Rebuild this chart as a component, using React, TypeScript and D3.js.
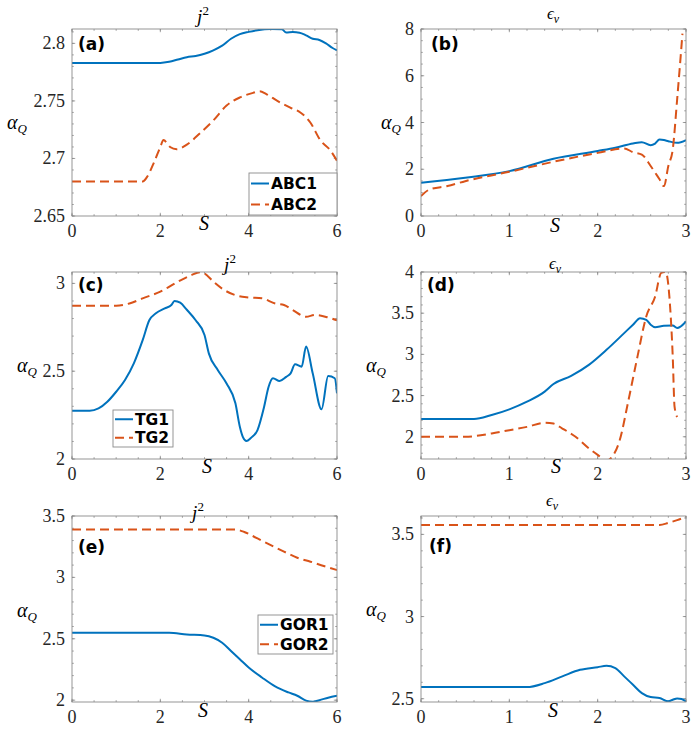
import * as d3 from "d3";

type Pt = [number, number];

const BLUE = "#0072BD";
const ORANGE = "#D95319";

// (a) j^2, ABC models
const abc1J2: Pt[] = [
  [0, 2.783], [1, 2.783], [2.0, 2.783], [2.2, 2.784], [2.4, 2.786], [2.6, 2.788], [2.8, 2.789],
  [3.0, 2.791], [3.2, 2.794], [3.4, 2.798], [3.6, 2.804], [3.8, 2.808], [4.0, 2.81], [4.2, 2.8115],
  [4.5, 2.8125], [4.75, 2.8122], [4.85, 2.8095], [5.0, 2.8098], [5.15, 2.8093], [5.3, 2.807],
  [5.45, 2.804], [5.6, 2.803], [5.75, 2.8], [5.9, 2.796], [6.0, 2.794],
];
const abc2J2: Pt[] = [
  [0, 2.68], [1, 2.68], [1.6, 2.68], [1.7, 2.684], [1.85, 2.696], [2.0, 2.71], [2.07, 2.716],
  [2.22, 2.71], [2.37, 2.708], [2.6, 2.712], [2.9, 2.722], [3.2, 2.733], [3.5, 2.746], [3.8, 2.753],
  [4.1, 2.757], [4.25, 2.7585], [4.4, 2.756], [4.65, 2.75], [4.95, 2.744], [5.17, 2.74], [5.4, 2.731],
  [5.62, 2.716], [5.85, 2.707], [6.0, 2.698],
];
// (b) eps_v, ABC models
const abc1Ev: Pt[] = [
  [0, 1.42], [0.5, 1.64], [1.0, 1.92], [1.5, 2.45], [2.0, 2.78], [2.2, 2.92], [2.4, 3.1], [2.5, 3.16],
  [2.6, 3.03], [2.65, 3.1], [2.7, 3.27], [2.75, 3.25], [2.8, 3.2], [2.9, 3.13], [3.0, 3.25],
];
const abc2Ev: Pt[] = [
  [0, 0.85], [0.1, 1.14], [0.3, 1.28], [0.5, 1.49], [1.0, 1.89], [1.5, 2.32], [2.0, 2.7], [2.3, 2.89],
  [2.4, 2.73], [2.5, 2.63], [2.6, 2.14], [2.7, 1.57], [2.75, 1.28], [2.8, 2.14], [2.85, 2.85],
  [2.9, 5.0], [2.96, 7.8],
];
// (c) j^2, TG models
const tg1J2: Pt[] = [
  [0, 2.275], [0.4, 2.275], [0.6, 2.288], [0.8, 2.326], [1.0, 2.383], [1.2, 2.45], [1.4, 2.545],
  [1.6, 2.677], [1.75, 2.79], [1.9, 2.83], [2.1, 2.858], [2.25, 2.877], [2.32, 2.9], [2.45, 2.89],
  [2.6, 2.85], [2.8, 2.79], [3.0, 2.706], [3.1, 2.6], [3.3, 2.507], [3.5, 2.43], [3.7, 2.317],
  [3.8, 2.184], [3.87, 2.125], [3.95, 2.103], [4.05, 2.12], [4.2, 2.165], [4.35, 2.298], [4.45, 2.41],
  [4.55, 2.46], [4.7, 2.444], [4.85, 2.468], [4.95, 2.488], [5.05, 2.54], [5.2, 2.526], [5.3, 2.64],
  [5.45, 2.488], [5.65, 2.283], [5.8, 2.472], [5.95, 2.46], [6.0, 2.374],
];
const tg2J2: Pt[] = [
  [0, 2.873], [1.0, 2.873], [1.3, 2.886], [1.6, 2.915], [2.0, 2.953], [2.4, 3.01], [2.7, 3.047],
  [2.9, 3.064], [3.0, 3.057], [3.2, 3.01], [3.4, 2.97], [3.7, 2.933], [4.0, 2.92], [4.3, 2.915],
  [4.6, 2.886], [4.8, 2.877], [5.0, 2.848], [5.3, 2.81], [5.5, 2.82], [5.8, 2.806], [6.0, 2.79],
];
// (d) eps_v, TG models
const tg1Ev: Pt[] = [
  [0, 2.215], [0.6, 2.215], [0.8, 2.264], [1.0, 2.333], [1.2, 2.426], [1.4, 2.548], [1.5, 2.64],
  [1.7, 2.738], [1.9, 2.872], [2.1, 3.055], [2.3, 3.258], [2.4, 3.36], [2.48, 3.44], [2.55, 3.42],
  [2.6, 3.36], [2.65, 3.33], [2.75, 3.347], [2.85, 3.35], [2.9, 3.32], [3.0, 3.4],
];
const tg2Ev: Pt[] = [
  [0, 2.0], [0.5, 2.0], [0.8, 2.04], [1.0, 2.08], [1.2, 2.12], [1.4, 2.17], [1.5, 2.16], [1.6, 2.1],
  [1.75, 2.0], [1.9, 1.86], [2.0, 1.78], [2.1, 1.71], [2.15, 1.74], [2.25, 1.96], [2.35, 2.45],
  [2.45, 2.97], [2.55, 3.46], [2.65, 3.7], [2.72, 3.99], [2.77, 4.0], [2.82, 3.58], [2.85, 2.97],
  [2.87, 2.37], [2.9, 2.24],
];
// (e) j^2, GOR models
const gor1J2: Pt[] = [
  [0, 2.549], [2.2, 2.549], [2.6, 2.535], [3.0, 2.527], [3.2, 2.508], [3.4, 2.468], [3.6, 2.4],
  [3.8, 2.333], [4.0, 2.266], [4.3, 2.185], [4.6, 2.112], [4.9, 2.063], [5.1, 2.036], [5.3, 1.996],
  [5.45, 1.988], [5.6, 2.0], [5.8, 2.02], [6.0, 2.036],
];
const gor2J2: Pt[] = [
  [0, 3.39], [3.7, 3.39], [3.9, 3.37], [4.2, 3.317], [4.5, 3.263], [4.8, 3.21], [5.1, 3.16],
  [5.4, 3.128], [5.7, 3.093], [6.0, 3.06],
];
// (f) eps_v, GOR models
const gor1Ev: Pt[] = [
  [0, 2.571], [1.2, 2.571], [1.4, 2.595], [1.6, 2.636], [1.8, 2.676], [2.0, 2.692], [2.1, 2.7],
  [2.2, 2.686], [2.3, 2.636], [2.4, 2.585], [2.5, 2.534], [2.6, 2.51], [2.7, 2.504], [2.8, 2.484],
  [2.85, 2.494], [2.9, 2.502], [2.95, 2.498], [3.0, 2.484],
];
const gor2Ev: Pt[] = [[0, 3.557], [2.7, 3.557], [2.8, 3.57], [2.9, 3.587], [3.0, 3.607]];

const xTicksJ2 = [0, 2, 4, 6];
const xTicksEv = [0, 1, 2, 3];
const yTicksA = [2.65, 2.7, 2.75, 2.8];
const yTicksB = [0, 2, 4, 6, 8];
const yTicksC = [2, 2.5, 3];
const yTicksD = [2, 2.5, 3, 3.5, 4];
const yTicksE = [2, 2.5, 3, 3.5];
const yTicksF = [2.5, 3, 3.5];

const legendA = ["ABC1", "ABC2"];
const legendC = ["TG1", "TG2"];
const legendE = ["GOR1", "GOR2"];

interface PanelDef {
  id: string;
  tag: string;
  box: [number, number, number, number]; // left, top, right, bottom
  xDomain: [number, number];
  yDomain: [number, number];
  xTicks: number[];
  yTicks: number[];
  xMinor: number;
  yMinor: number;
  solid: Pt[];
  dashed: Pt[];
  title: "j2" | "ev";
  titlePos: [number, number];
  yLabelPos: [number, number];
  xLabelPos: [number, number];
  tagPos: [number, number];
  legend?: { names: string[]; box: [number, number, number, number] };
}

const panels: PanelDef[] = [
  {
    id: "a", tag: "(a)", box: [72, 29, 337, 216], xDomain: [0, 6], yDomain: [2.65, 2.8125],
    xTicks: xTicksJ2, yTicks: yTicksA, xMinor: 0.5, yMinor: 0.01, solid: abc1J2, dashed: abc2J2,
    title: "j2", titlePos: [203, 23], yLabelPos: [7, 129], xLabelPos: [204, 230], tagPos: [78, 50],
    legend: { names: legendA, box: [249, 173, 337, 215] },
  },
  {
    id: "b", tag: "(b)", box: [421, 29, 686, 216], xDomain: [0, 3], yDomain: [0, 8],
    xTicks: xTicksEv, yTicks: yTicksB, xMinor: 0.2, yMinor: 0.5, solid: abc1Ev, dashed: abc2Ev,
    title: "ev", titlePos: [553, 19], yLabelPos: [381, 129], xLabelPos: [555, 232], tagPos: [431, 50],
  },
  {
    id: "c", tag: "(c)", box: [72, 272, 337, 459], xDomain: [0, 6], yDomain: [2, 3.065],
    xTicks: xTicksJ2, yTicks: yTicksC, xMinor: 0.5, yMinor: 0.1, solid: tg1J2, dashed: tg2J2,
    title: "j2", titlePos: [230, 271], yLabelPos: [17, 372], xLabelPos: [207, 473], tagPos: [78, 291],
    legend: { names: legendC, box: [113, 410, 173, 447] },
  },
  {
    id: "d", tag: "(d)", box: [421, 272, 686, 459], xDomain: [0, 3], yDomain: [1.73, 4],
    xTicks: xTicksEv, yTicks: yTicksD, xMinor: 0.2, yMinor: 0.1, solid: tg1Ev, dashed: tg2Ev,
    title: "ev", titlePos: [555, 269], yLabelPos: [366, 372], xLabelPos: [556, 473], tagPos: [427, 291],
  },
  {
    id: "e", tag: "(e)", box: [72, 516, 337, 702], xDomain: [0, 6], yDomain: [1.985, 3.5],
    xTicks: xTicksJ2, yTicks: yTicksE, xMinor: 0.5, yMinor: 0.1, solid: gor1J2, dashed: gor2J2,
    title: "j2", titlePos: [198, 519], yLabelPos: [17, 617], xLabelPos: [203, 717], tagPos: [78, 553],
    legend: { names: legendE, box: [258, 615, 333, 654] },
  },
  {
    id: "f", tag: "(f)", box: [421, 516, 686, 702], xDomain: [0, 3], yDomain: [2.48, 3.612],
    xTicks: xTicksEv, yTicks: yTicksF, xMinor: 0.2, yMinor: 0.1, solid: gor1Ev, dashed: gor2Ev,
    title: "ev", titlePos: [552, 506], yLabelPos: [366, 616], xLabelPos: [553, 717], tagPos: [429, 552],
  },
];

const SERIF = "'Liberation Serif', 'DejaVu Serif', serif";
const SANS = "'DejaVu Sans', sans-serif";
const AXIS = "#8a8a8a";
const TEXT = "#262626";

const minorValues = (d0: number, d1: number, step: number) => {
  const lo = Math.ceil(d0 / step - 1e-9);
  const hi = Math.floor(d1 / step + 1e-9);
  return d3.range(lo, hi + 1).map((i) => +(i * step).toFixed(6));
};

const fmt = (v: number) => String(+v.toFixed(3));

function Panel({ p }: { p: PanelDef }) {
  const [l, t, r, b] = p.box;
  const x = d3.scaleLinear().domain(p.xDomain).range([l, r]);
  const y = d3.scaleLinear().domain(p.yDomain).range([b, t]);
  const line = d3
    .line<Pt>()
    .x((d) => x(d[0]))
    .y((d) => y(d[1]))
    .curve(d3.curveMonotoneX);
  const clipId = `clip-${p.id}`;
  const xm = minorValues(p.xDomain[0], p.xDomain[1], p.xMinor);
  const ym = minorValues(p.yDomain[0], p.yDomain[1], p.yMinor);
  const major = 3.2;
  const minor = 1.8;

  return (
    <g>
      <defs>
        <clipPath id={clipId}>
          <rect x={l} y={t} width={r - l} height={b - t} />
        </clipPath>
      </defs>
      <rect x={l} y={t} width={r - l} height={b - t} fill="#fff" />
      {/* ticks on all four sides, pointing in */}
      <g stroke={AXIS} strokeWidth={0.8}>
        {xm.map((v) => (
          <g key={`xm${v}`}>
            <line x1={x(v)} x2={x(v)} y1={b} y2={b - minor} />
            <line x1={x(v)} x2={x(v)} y1={t} y2={t + minor} />
          </g>
        ))}
        {ym.map((v) => (
          <g key={`ym${v}`}>
            <line x1={l} x2={l + minor} y1={y(v)} y2={y(v)} />
            <line x1={r} x2={r - minor} y1={y(v)} y2={y(v)} />
          </g>
        ))}
        {p.xTicks.map((v) => (
          <g key={`xt${v}`}>
            <line x1={x(v)} x2={x(v)} y1={b} y2={b - major} />
            <line x1={x(v)} x2={x(v)} y1={t} y2={t + major} />
          </g>
        ))}
        {p.yTicks.map((v) => (
          <g key={`yt${v}`}>
            <line x1={l} x2={l + major} y1={y(v)} y2={y(v)} />
            <line x1={r} x2={r - major} y1={y(v)} y2={y(v)} />
          </g>
        ))}
      </g>
      <g clipPath={`url(#${clipId})`} fill="none" strokeWidth={2}>
        <path d={line(p.solid) ?? ""} stroke={BLUE} strokeLinejoin="round" />
        <path d={line(p.dashed) ?? ""} stroke={ORANGE} strokeDasharray="9,5" />
      </g>
      <rect x={l} y={t} width={r - l} height={b - t} fill="none" stroke={AXIS} strokeWidth={0.9} />
      <g fontFamily={SERIF} fontSize={18} fill={TEXT}>
        {p.xTicks.map((v) => (
          <text key={`xl${v}`} x={x(v)} y={b + 21} textAnchor="middle">
            {fmt(v)}
          </text>
        ))}
        {p.yTicks.map((v) => (
          <text key={`yl${v}`} x={l - 7} y={y(v) + 6} textAnchor="end">
            {fmt(v)}
          </text>
        ))}
      </g>
      {p.title === "j2" ? (
        <text x={p.titlePos[0]} y={p.titlePos[1]} fontFamily={SERIF} fontSize={19} fill="#000" textAnchor="middle">
          <tspan fontStyle="italic">j</tspan>
          <tspan dy={-8} fontSize={13}>2</tspan>
        </text>
      ) : (
        <text x={p.titlePos[0]} y={p.titlePos[1]} fontFamily={SERIF} fontSize={17} fill="#000" textAnchor="middle">
          <tspan fontStyle="italic">ϵ</tspan>
          <tspan dy={4} fontSize={12} fontStyle="italic">v</tspan>
        </text>
      )}
      <text x={p.yLabelPos[0]} y={p.yLabelPos[1]} fontFamily={SERIF} fontSize={20} fill="#000">
        <tspan fontStyle="italic">α</tspan>
        <tspan dy={4} fontSize={13} fontStyle="italic">Q</tspan>
      </text>
      <text
        x={p.xLabelPos[0]}
        y={p.xLabelPos[1]}
        fontFamily={SERIF}
        fontSize={20}
        fontStyle="italic"
        fill="#000"
        textAnchor="middle"
      >
        S
      </text>
      <text x={p.tagPos[0]} y={p.tagPos[1]} fontFamily={SANS} fontSize={17} fontWeight="bold" fill="#000">
        {p.tag}
      </text>
      {p.legend && <Legend names={p.legend.names} box={p.legend.box} />}
    </g>
  );
}

function Legend({ names, box }: { names: string[]; box: [number, number, number, number] }) {
  const [l, t, r, b] = box;
  const rowH = (b - t) / names.length;
  return (
    <g>
      <rect x={l} y={t} width={r - l} height={b - t} fill="#fff" stroke={AXIS} strokeWidth={0.9} />
      {names.map((n, i) => {
        const cy = t + rowH * (i + 0.5);
        return (
          <g key={n}>
            <line
              x1={l + 2}
              x2={l + 20}
              y1={cy}
              y2={cy}
              stroke={i === 0 ? BLUE : ORANGE}
              strokeWidth={2}
              strokeDasharray={i === 0 ? undefined : "9,5"}
            />
            <text x={l + 22} y={cy + 5.5} fontFamily={SANS} fontSize={15.5} fontWeight="bold" fill="#000">
              {n}
            </text>
          </g>
        );
      })}
    </g>
  );
}

export default function App() {
  return (
    <svg
      width={698}
      height={731}
      viewBox="0 0 698 731"
      style={{ position: "absolute", left: 0, top: 0, background: "#fff" }}
    >
      <rect width={698} height={731} fill="#fff" />
      {panels.map((p) => (
        <Panel key={p.id} p={p} />
      ))}
    </svg>
  );
}
